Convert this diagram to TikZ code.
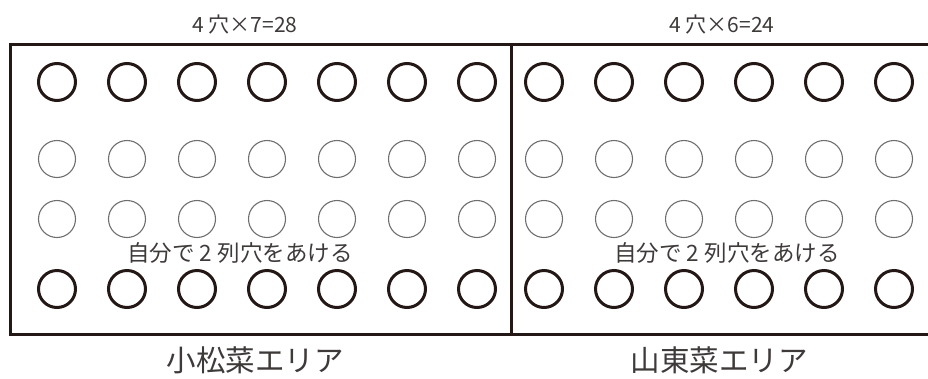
\documentclass[tikz,border=0pt]{standalone}
\usepackage{fontspec}
\setmainfont{Noto Sans CJK JP}
\usepackage{tikz}
\usetikzlibrary{positioning}
\definecolor{ink}{HTML}{231815}
\definecolor{textgray}{HTML}{3E3A39}
\definecolor{holegray}{HTML}{6E6E6E}

\begin{document}
\begin{tikzpicture}[x=1pt, y=-1pt,
    hole/.style={circle, draw=ink, line width=3pt, minimum size=37pt, inner sep=0pt},
    planned/.style={circle, draw=holegray, line width=1.1pt, minimum size=37pt, inner sep=0pt},
    countlabel/.style={text=textgray, font=\fontsize{21pt}{21pt}\selectfont, inner sep=0pt},
    notelabel/.style={text=textgray, font=\fontsize{22.5pt}{22.5pt}\selectfont, inner sep=0pt},
    arealabel/.style={text=textgray, font=\fontsize{29.5pt}{29.5pt}\selectfont, inner sep=0pt}]
    \useasboundingbox (0,0) rectangle (928,378);
    % frame and divider
    \coordinate (tr) at (930,44);
    \coordinate (tl) at (10,44);
    \coordinate (bl) at (10,334);
    \coordinate (br) at (930,334);
    \coordinate (dt) at (511,44);
    \coordinate (db) at (511,334);
    \draw[ink, line width=3pt] (tr) -- (tl) -- (bl) -- (br);
    \draw[ink, line width=3pt] (dt) -- (db);
    % holes of the left area
    \foreach \i in {1,...,7} {
      \node[hole] (kA-\i) at ({57+70*(\i-1)},82) {};
      \node[planned] (kB-\i) at ({57+70*(\i-1)},159) {};
      \node[planned] (kC-\i) at ({57+70*(\i-1)},219) {};
      \node[hole] (kD-\i) at ({57+70*(\i-1)},289) {};
    }
    % holes of the right area
    \foreach \i in {1,...,6} {
      \node[hole] (sA-\i) at ({544+70*(\i-1)},82) {};
      \node[planned] (sB-\i) at ({544+70*(\i-1)},159) {};
      \node[planned] (sC-\i) at ({544+70*(\i-1)},219) {};
      \node[hole] (sD-\i) at ({544+70*(\i-1)},289) {};
    }
    % labels
    \node[countlabel] (kcount) at (245,25) {4 穴×7=28};
    \node[countlabel] (scount) at (722,25) {4 穴×6=24};
    \node[notelabel] (knote) at (240,253) {自分で 2 列穴をあける};
    \node[notelabel] (snote) at (727,253) {自分で 2 列穴をあける};
    \node[arealabel] (karea) at (255,360) {小松菜エリア};
    \node[arealabel] (sarea) at (719,360) {山東菜エリア};
  \end{tikzpicture}
\end{document}
